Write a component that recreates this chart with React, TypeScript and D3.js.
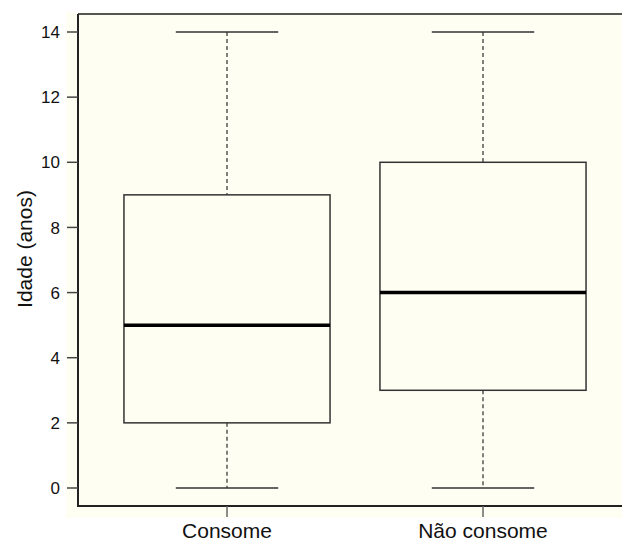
import React from 'react';
import * as d3 from 'd3';

const categories = ['Consome', 'Não consome'];
const mins = [0, 0];
const q1s = [2, 3];
const medians = [5, 6];
const q3s = [9, 10];
const maxs = [14, 14];
const yTicks = [0, 2, 4, 6, 8, 10, 12, 14];

const W = 622;
const H = 543;
const left = 78;
const top = 14;
const bottom = 506;

export default function App() {
  const x = d3.scaleBand<string>().domain(categories).range([99, 611]).paddingInner(0);
  const y = d3.scaleLinear().domain([0, 14]).range([488, 32]);
  const bw = x.bandwidth();
  const boxW = bw * 0.805;
  const capW = bw * 0.4;
  const font = 'Liberation Sans, Arial, Helvetica, sans-serif';
  const line = '#333';

  return (
    <svg width={W} height={H} style={{ position: 'absolute', left: 0, top: 0, display: 'block' }}
      fontFamily={font}>
      <rect x={0} y={0} width={W} height={H} fill="#fff" />
      <rect x={66} y={12} width={W - 66} height={506} fill="#fffef2" />
      {/* frame */}
      <path d={`M${W},${top}H${left}`} fill="none" stroke="#555" strokeWidth={2} />
      <path d={`M${left},${top}V${bottom}H${W}`} fill="none" stroke="#222" strokeWidth={2} />
      {/* y axis */}
      {yTicks.map(t => (
        <g key={t}>
          <line x1={67} x2={left} y1={y(t)} y2={y(t)} stroke="#444" strokeWidth={1.5} />
          <text x={60} y={y(t)} dy="0.36em" textAnchor="end" fontSize={17} fill="#111">{t}</text>
        </g>
      ))}
      <text transform={`translate(32,${249}) rotate(-90)`} textAnchor="middle" fontSize={21} fill="#111">Idade (anos)</text>
      {/* x axis */}
      {categories.map(c => {
        const cx = (x(c) as number) + bw / 2;
        return (
          <g key={c}>
            <line x1={cx} x2={cx} y1={bottom} y2={517} stroke="#666" strokeWidth={1.5} />
            <text x={cx} y={538} textAnchor="middle" fontSize={21} fill="#111">{c}</text>
          </g>
        );
      })}
      {/* boxes */}
      {categories.map((c, i) => {
        const cx = (x(c) as number) + bw / 2;
        return (
          <g key={c}>
            <line x1={cx} x2={cx} y1={y(maxs[i])} y2={y(q3s[i])} stroke="#555" strokeWidth={1.5} strokeDasharray="4,3" />
            <line x1={cx} x2={cx} y1={y(q1s[i])} y2={y(mins[i])} stroke="#555" strokeWidth={1.5} strokeDasharray="4,3" />
            <line x1={cx - capW / 2} x2={cx + capW / 2} y1={y(maxs[i])} y2={y(maxs[i])} stroke={line} strokeWidth={1.5} />
            <line x1={cx - capW / 2} x2={cx + capW / 2} y1={y(mins[i])} y2={y(mins[i])} stroke={line} strokeWidth={1.5} />
            <rect x={cx - boxW / 2} y={y(q3s[i])} width={boxW} height={y(q1s[i]) - y(q3s[i])}
              fill="none" stroke={line} strokeWidth={1.5} />
            <line x1={cx - boxW / 2} x2={cx + boxW / 2} y1={y(medians[i])} y2={y(medians[i])} stroke="#000" strokeWidth={3.5} />
          </g>
        );
      })}
    </svg>
  );
}
